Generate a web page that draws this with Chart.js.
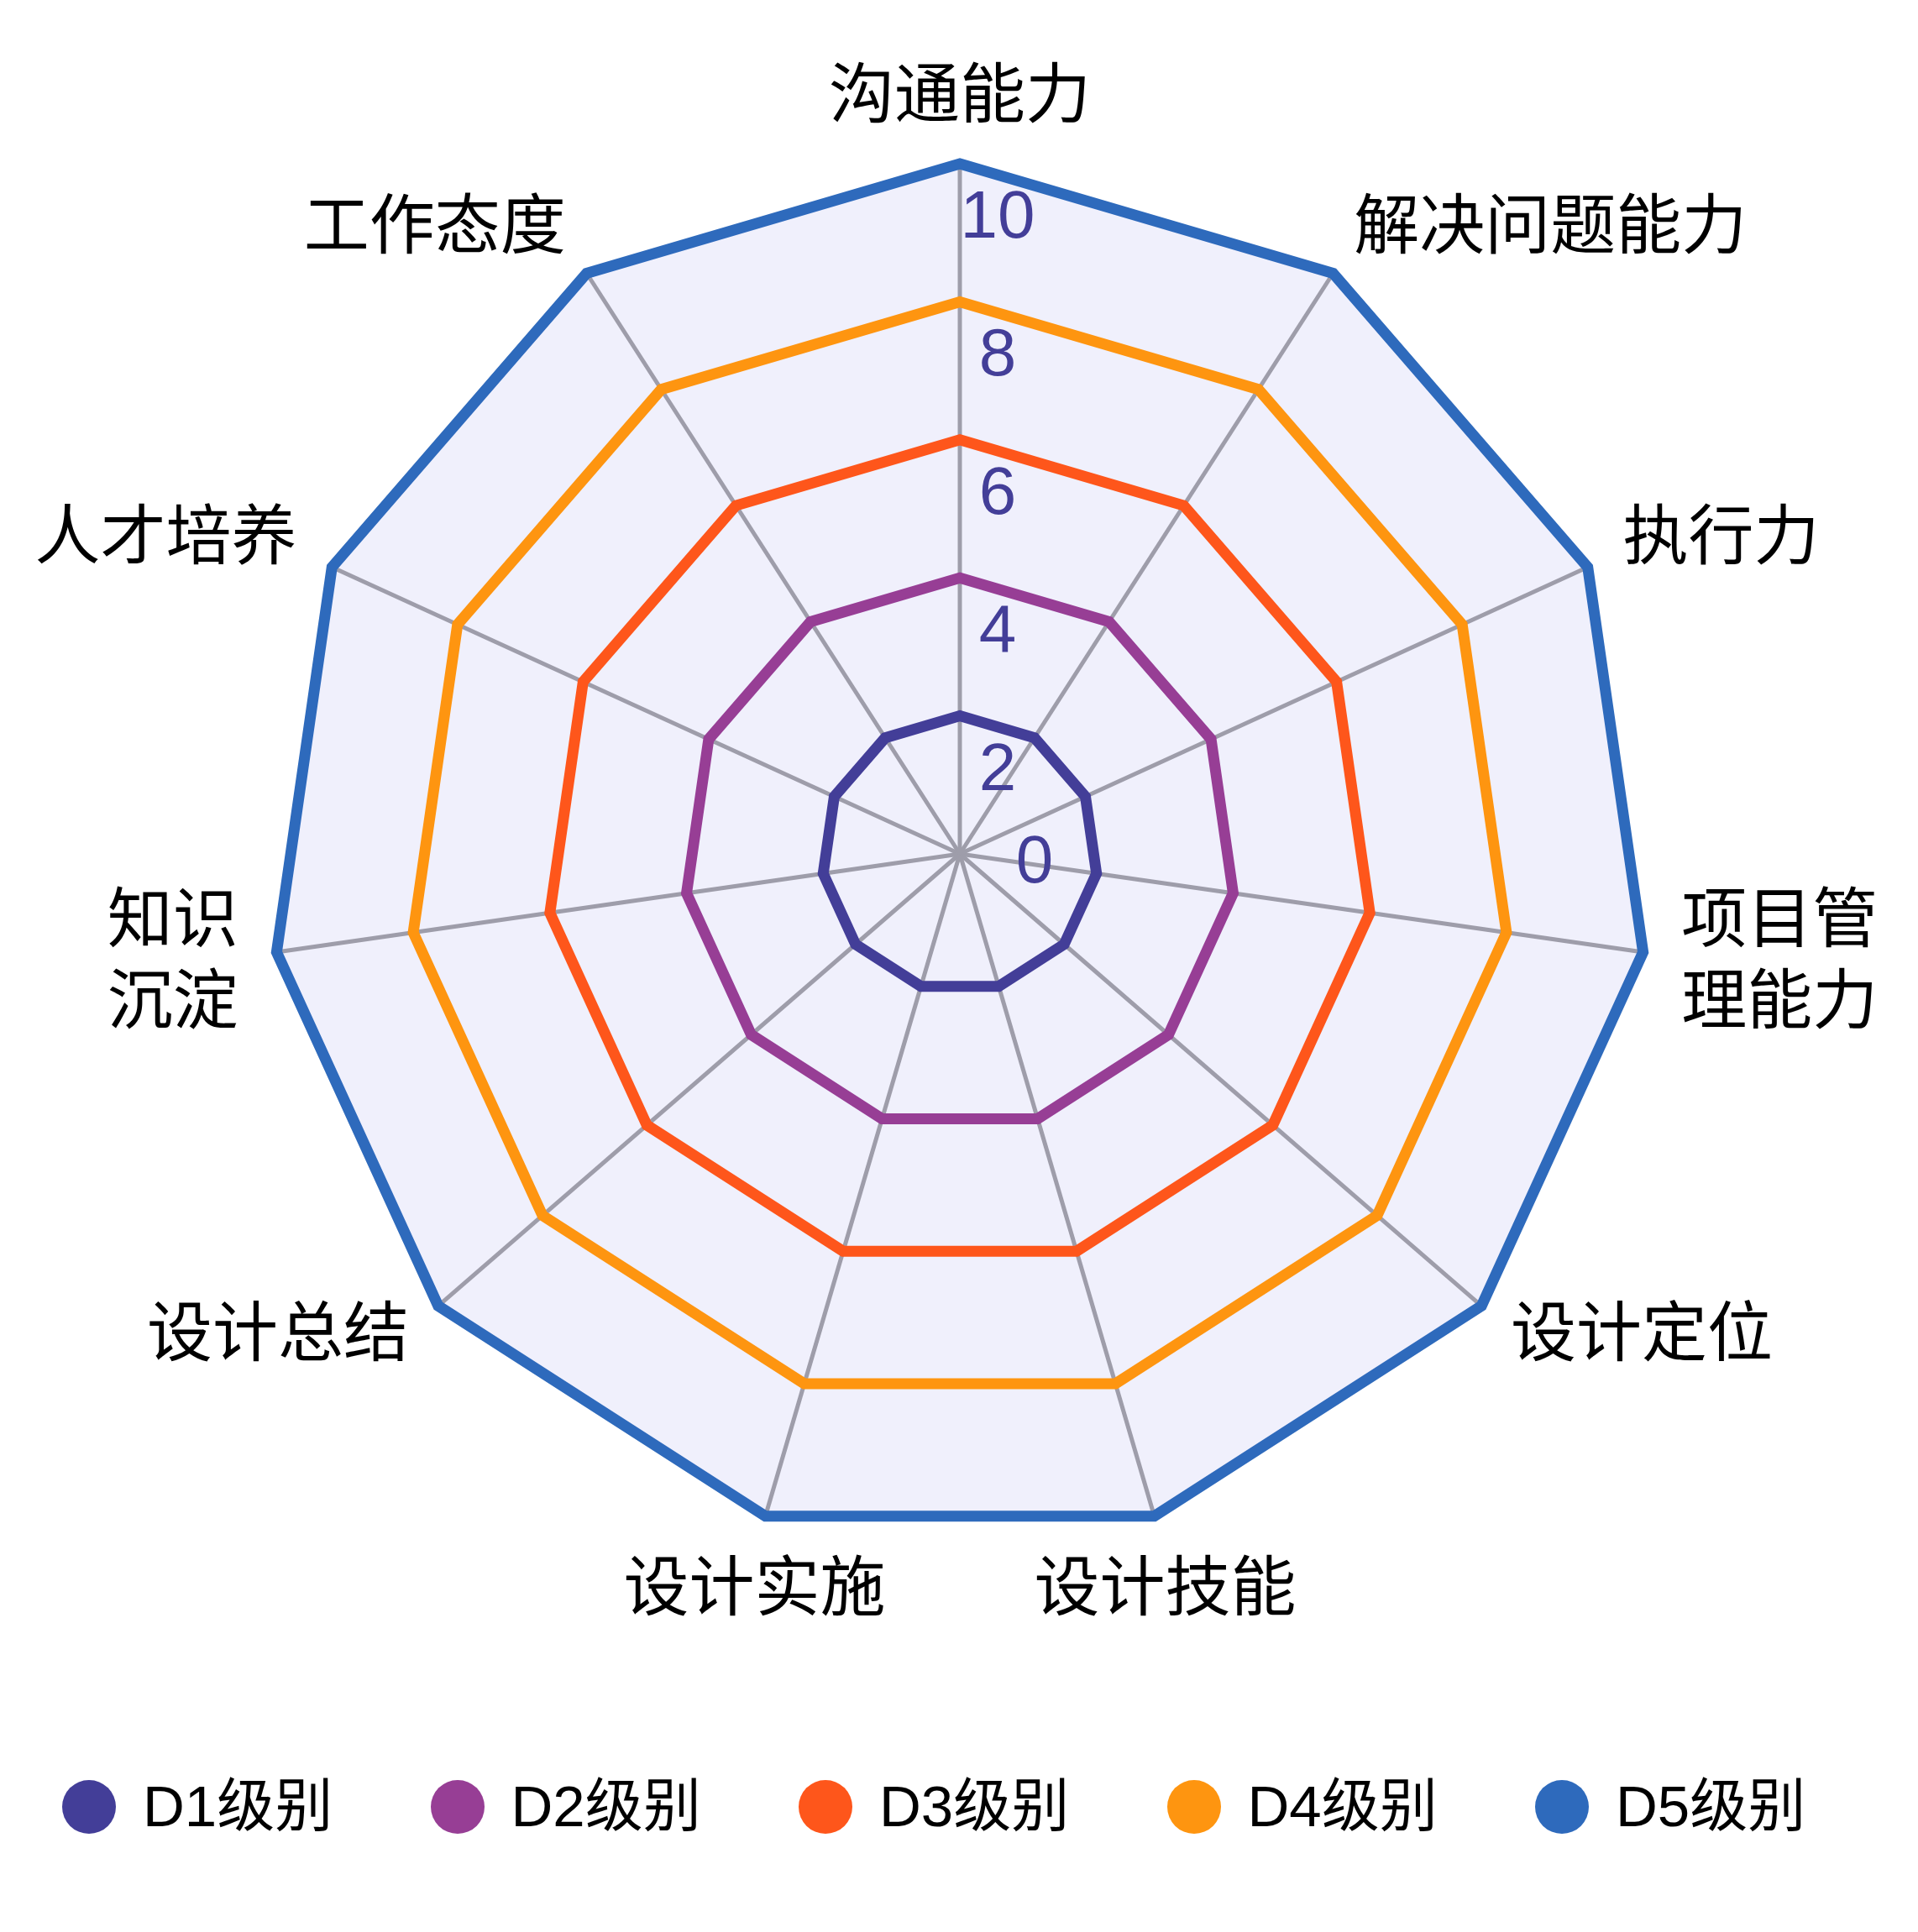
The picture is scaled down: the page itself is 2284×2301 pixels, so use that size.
<!DOCTYPE html>
<html>
<head>
<meta charset="utf-8">
<script src="https://cdn.jsdelivr.net/npm/chart.js@4/dist/chart.umd.min.js"></script>
<style>
  html, body { margin: 0; padding: 0; background: #ffffff; overflow: hidden; }
  #wrap { position: relative; width: 2284px; height: 2301px; }
  #c { position: absolute; left: 0; top: 0; width: 2284px; height: 2301px; }
  #legend { position: absolute; left: 74px; top: 2120px; height: 64px; display: flex; align-items: center; }
  .item { width: 438.5px; display: flex; align-items: center; flex: none; }
  .dot { width: 64px; height: 64px; border-radius: 50%; margin-right: 32px; flex: none; }
  .txt { font-family: "Liberation Sans", "Noto Sans CJK SC", sans-serif; font-size: 69px; line-height: 64px; color: #000; white-space: nowrap; }
</style>
</head>
<body>
<div id="wrap">
  <canvas id="c" width="2284" height="2301"></canvas>
  <div id="legend"></div>
</div>
<script>
// ---- data ----
const categories = ['沟通能力', '解决问题能力', '执行力', ['项目管', '理能力'], '设计定位', '设计技能', '设计实施', '设计总结', ['知识', '沉淀'], '人才培养', '工作态度'];
const seriesNames = ['D1级别', 'D2级别', 'D3级别', 'D4级别', 'D5级别'];
const d1 = [2, 2, 2, 2, 2, 2, 2, 2, 2, 2, 2];
const d2 = [4, 4, 4, 4, 4, 4, 4, 4, 4, 4, 4];
const d3 = [6, 6, 6, 6, 6, 6, 6, 6, 6, 6, 6];
const d4 = [8, 8, 8, 8, 8, 8, 8, 8, 8, 8, 8];
const d5 = [10, 10, 10, 10, 10, 10, 10, 10, 10, 10, 10];
const axisMin = 0, axisMax = 10, axisStep = 2;

// ---- styles ----
const seriesColors = ['#433E98', '#973E95', '#FE561B', '#FE9510', '#2E6ABC'];
const LABEL_FONT = 78, LABEL_LH = 97, LABEL_GAP = 46, UPPER_NUDGE = 20;
const TICK_FONT = 80, TICK_COLOR = '#433E98';

const seriesValues = [d1, d2, d3, d4, d5];

const radarText = {
  id: 'radarText',
  afterDatasetsDraw(chart) {
    const s = chart.scales.r;
    const ctx = chart.ctx;
    ctx.save();
    // axis (point) labels
    ctx.font = LABEL_FONT + 'px "Noto Sans CJK SC", sans-serif';
    ctx.fillStyle = '#000000';
    ctx.textBaseline = 'middle';
    const dist = s.drawingArea + LABEL_GAP;
    chart.data.labels.forEach((lab, i) => {
      const p = s.getPointPosition(i, dist);
      const ux = (p.x - s.xCenter) / dist, uy = (p.y - s.yCenter) / dist;
      const lines = Array.isArray(lab) ? lab : [lab];
      const n = lines.length;
      let align, y0;
      if (Math.abs(ux) < 0.35) {
        align = 'center';
        y0 = uy < 0 ? p.y - LABEL_FONT / 2 - (n - 1) * LABEL_LH : p.y + LABEL_FONT / 2;
      } else {
        align = ux > 0 ? 'left' : 'right';
        y0 = p.y - (n - 1) * LABEL_LH / 2 - (uy < 0 ? UPPER_NUDGE : 0);
      }
      ctx.textAlign = align;
      lines.forEach((t, k) => ctx.fillText(t, p.x, y0 + k * LABEL_LH));
    });
    // radial tick labels
    ctx.font = TICK_FONT + 'px "Liberation Sans", sans-serif';
    ctx.fillStyle = TICK_COLOR;
    ctx.textAlign = 'center';
    s.ticks.forEach(t => {
      const r = s.getDistanceFromCenterForValue(t.value);
      if (t.value === s.min) {
        ctx.fillText(t.label, s.xCenter + 89, s.yCenter + 12);
      } else {
        ctx.fillText(t.label, s.xCenter + 45, s.yCenter - r + 66);
      }
    });
    ctx.restore();
  }
};

const chart = new Chart(document.getElementById('c'), {
  type: 'radar',
  data: {
    labels: categories,
    datasets: seriesNames.map((name, i) => ({
      label: name,
      data: seriesValues[i],
      borderColor: seriesColors[i],
      backgroundColor: seriesColors[i],
      borderWidth: 13,
      borderJoinStyle: 'miter',
      fill: false,
      pointRadius: 0,
      pointHoverRadius: 0,
      tension: 0
    }))
  },
  options: {
    responsive: false,
    animation: false,
    layout: { padding: { top: 195, left: 2, right: 0, bottom: 462 } },
    plugins: { legend: { display: false }, tooltip: { enabled: false } },
    scales: {
      r: {
        min: axisMin,
        max: axisMax,
        backgroundColor: '#F0F0FC',
        ticks: { stepSize: axisStep, display: false },
        grid: { display: false },
        angleLines: { display: true, color: '#9E9DAA', lineWidth: 5 },
        pointLabels: { display: false }
      }
    }
  },
  plugins: [radarText]
});

// HTML legend built from the chart's datasets
const legendEl = document.getElementById('legend');
chart.data.datasets.forEach(ds => {
  const item = document.createElement('div');
  item.className = 'item';
  const dot = document.createElement('span');
  dot.className = 'dot';
  dot.style.background = ds.borderColor;
  const txt = document.createElement('span');
  txt.className = 'txt';
  txt.textContent = ds.label;
  item.appendChild(dot);
  item.appendChild(txt);
  legendEl.appendChild(item);
});
</script>
</body>
</html>
